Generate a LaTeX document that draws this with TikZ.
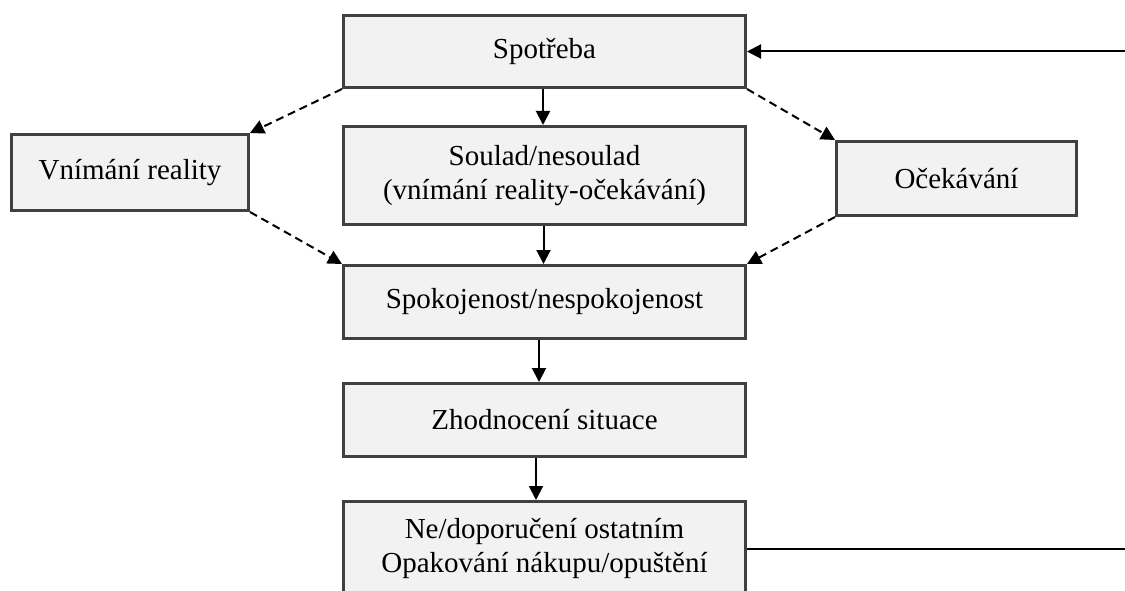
\documentclass[tikz,border=0pt]{standalone}
\usepackage{fontspec}
\setmainfont{Liberation Serif}
\usetikzlibrary{arrows.meta}
\definecolor{boxline}{HTML}{404040}
\definecolor{boxfill}{HTML}{F2F2F2}
\begin{document}
\begin{tikzpicture}[x=1pt,y=-1pt,
  box/.style={draw=boxline, fill=boxfill, line width=3pt, inner sep=0pt, align=center,
    font=\fontsize{29}{34}\selectfont, text=black},
  arr/.style={-{Triangle[length=14pt,width=14pt]}, line width=2pt, black},
  darr/.style={arr, dash pattern=on 8pt off 5pt},
  plain/.style={line width=2pt, black}]
\useasboundingbox (0,0) rectangle (1125,591);
\clip (0,0) rectangle (1125,591);
\node[box, minimum width=402pt, minimum height=72pt] (spot) at (544.5,51.5) {Spotřeba};
\node[box, minimum width=402pt, minimum height=98pt] (soulad) at (544.5,175.5) {Soulad/nesoulad\\(vnímání reality-očekávání)};
\node[box, minimum width=237pt, minimum height=76pt] (vnim) at (130,172.5) {Vnímání reality};
\node[box, minimum width=240pt, minimum height=74pt] (ocek) at (956.5,178.5) {Očekávání};
\node[box, minimum width=402pt, minimum height=73pt] (spok) at (544.5,302) {Spokojenost/nespokojenost};
\node[box, minimum width=402pt, minimum height=73pt] (zhod) at (544.5,420) {Zhodnocení situace};
\node[box, minimum width=402pt, minimum height=94pt] (nedop) at (544.5,548.5) {Ne/doporučení ostatním\\Opakování nákupu/opuštění};
\coordinate (rin) at (1125,51.5);
\coordinate (rout) at (1125,548.5);
\draw[arr] ([xshift=-1.5pt]spot.south) -- ([xshift=-1.5pt]soulad.north);
\draw[arr] ([xshift=-1pt]soulad.south) -- ([xshift=-1pt]spok.north);
\draw[arr] ([xshift=-5.5pt]spok.south) -- ([xshift=-5.5pt]zhod.north);
\draw[arr] ([xshift=-8.5pt]zhod.south) -- ([xshift=-8.5pt]nedop.north);
\draw[darr] (spot.south west) -- (vnim.north east);
\draw[darr] (vnim.south east) -- (spok.north west);
\draw[darr] (spot.south east) -- (ocek.north west);
\draw[darr] (ocek.south west) -- (spok.north east);
\draw[arr] (rin) -- (spot.east);
\draw[plain] (nedop.east) -- (rout);
\end{tikzpicture}
\end{document}
